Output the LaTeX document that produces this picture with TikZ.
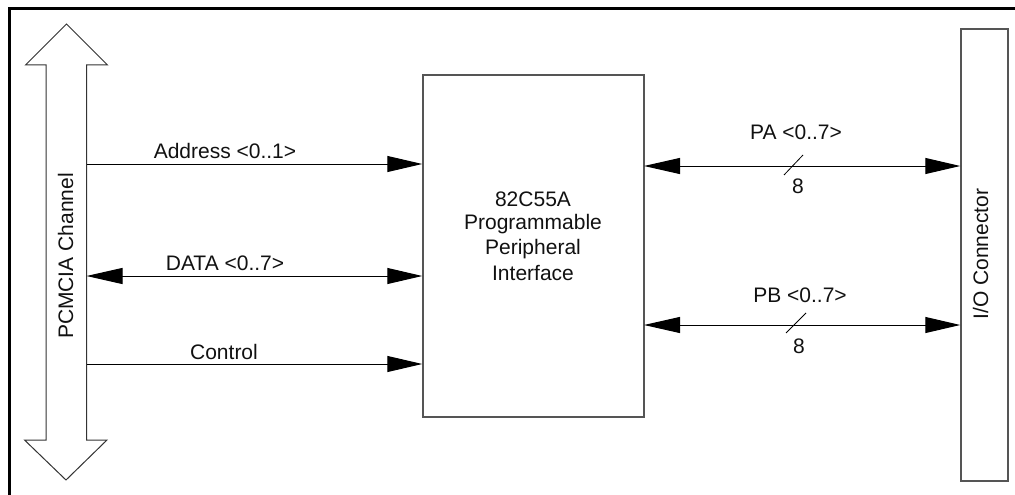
\documentclass[tikz,border=0pt]{standalone}
\usepackage{fontspec}
\setmainfont{Liberation Sans}
\usetikzlibrary{arrows.meta}
\definecolor{boxgray}{HTML}{555555}
\definecolor{txt}{HTML}{111111}
\tikzset{
  lbl/.style={anchor=base, inner sep=0pt, text=txt, font=\fontsize{21}{25}\selectfont},
  sig/.style={line width=1pt, -{Triangle[length=35pt,width=16pt]}},
  bisig/.style={line width=1pt, {Triangle[length=36pt,width=16pt]}-{Triangle[length=35pt,width=16pt]}},
  blockbox/.style={draw=boxgray, line width=1.5pt, inner sep=0pt, fill=white},
  slash/.style={line width=0.8pt}
}
\begin{document}
\begin{tikzpicture}[x=1pt,y=-1pt]
\useasboundingbox (0,0) rectangle (1015,495);
% frame (top and left)
\draw[line width=3pt] (9.5,495) -- (9.5,8.8) -- (1015,8.8);
% PCMCIA bus double arrow
\draw[line width=1pt, draw=black!80, fill=white]
  (66.5,24) -- (107.5,65) -- (86.5,65) -- (86.5,440) -- (107,440) -- (66,480)
  -- (24.5,440) -- (46,440) -- (46,65) -- (25.5,65) -- cycle;
\node[lbl, rotate=90] (bustext) at (73,256) {PCMCIA Channel};
% blocks
\node[blockbox, minimum width=221pt, minimum height=342pt] (chip) at (533.5,246) {};
\node[blockbox, minimum width=47pt, minimum height=452pt] (conn) at (984.5,255) {};
\node[lbl, rotate=90] (conntext) at (988,254) {I/O Connector};
% chip text
\node[lbl] (c1) at (533,206) {82C55A};
\node[lbl] (c2) at (533,229) {Programmable};
\node[lbl] (c3) at (533,254) {Peripheral};
\node[lbl] (c4) at (533,280) {Interface};
% bus-side coordinates
\coordinate (busA) at (86.5,164);
\coordinate (busD) at (86.5,276);
\coordinate (busC) at (86.5,364);
\draw[sig] (busA) -- (busA -| chip.west);
\draw[bisig] (busD) -- (busD -| chip.west);
\draw[sig] (busC) -- (busC -| chip.west);
\node[lbl] (la) at (225,158) {Address <0..1>};
\node[lbl] (ld) at (225,270) {DATA <0..7>};
\node[lbl] (lc) at (224,359) {Control};
% port lines
\coordinate (pa) at (644,166);
\coordinate (pb) at (644,325);
\draw[bisig] (pa) -- (pa -| conn.west);
\draw[bisig] (pb) -- (pb -| conn.west);
\coordinate (sa1) at (784,175); \coordinate (sa2) at (803,155);
\coordinate (sb1) at (786,333); \coordinate (sb2) at (806,313);
\draw[slash] (sa1) -- (sa2);
\draw[slash] (sb1) -- (sb2);
\node[lbl] (lpa) at (796,139) {PA <0..7>};
\node[lbl] (lpb) at (800,302) {PB <0..7>};
\node[lbl] (na) at (798,193) {8};
\node[lbl] (nb) at (799,353) {8};
\end{tikzpicture}
\end{document}
